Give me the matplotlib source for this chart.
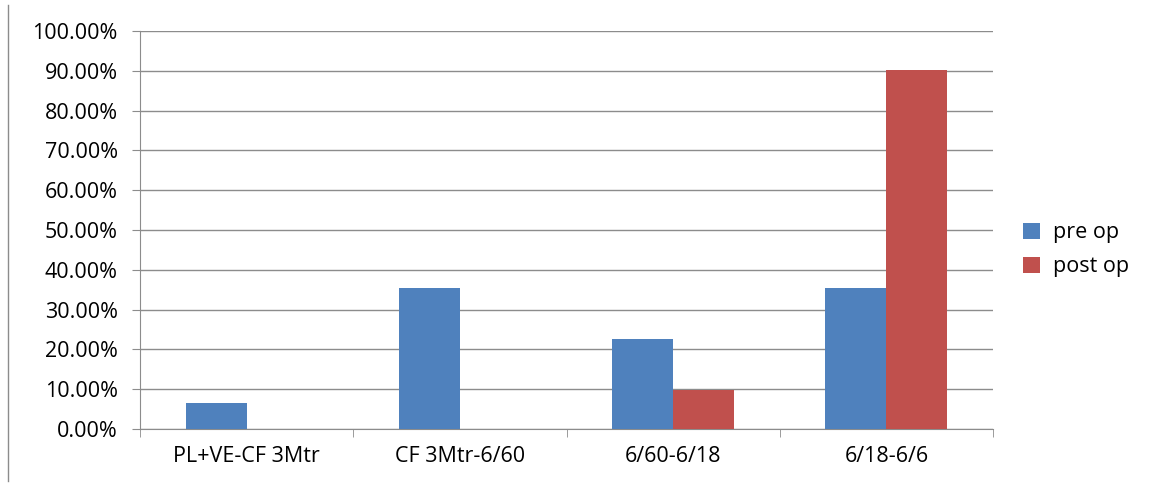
import matplotlib
matplotlib.use("Agg")
import matplotlib.pyplot as plt
from matplotlib.ticker import PercentFormatter
import numpy as np

categories = ["PL+VE-CF 3Mtr", "CF 3Mtr-6/60", "6/60-6/18", "6/18-6/6"]
pre_op = [6.45, 35.48, 22.58, 35.48]
post_op = [0.0, 0.0, 9.68, 90.32]

plt.rcParams["font.family"] = ["Open Sans", "DejaVu Sans"]

fig = plt.figure(figsize=(11.53, 4.86), dpi=100)
ax = fig.add_axes([140 / 1153, 1 - 429 / 486, 853 / 1153, 398 / 486])

x = np.arange(len(categories))
w = 0.286
ax.bar(x - w / 2, pre_op, w, color="#4f81bd", label="pre op", zorder=3)
ax.bar(x + w / 2, post_op, w, color="#c0504d", label="post op", zorder=3)

ax.set_xlim(-0.5, len(categories) - 0.5)
ax.set_ylim(0, 100)
ax.set_yticks(np.arange(0, 101, 10))
ax.yaxis.set_major_formatter(PercentFormatter(decimals=2))
ax.grid(axis="y", color="#8c8c8c", linewidth=1, zorder=0)
ax.set_xticks(x)
ax.set_xticklabels(categories)
ax.set_xticks(np.arange(-0.5, len(categories)), minor=True)
ax.tick_params(axis="x", which="major", length=0, pad=12, labelsize=15.5)
ax.tick_params(axis="x", which="minor", length=6, color="#8c8c8c")
ax.tick_params(axis="y", length=6, color="#8c8c8c", labelsize=15.5, pad=10)
for side in ["top", "right"]:
    ax.spines[side].set_visible(False)
for side in ["left", "bottom"]:
    ax.spines[side].set_color("#8c8c8c")

ax.legend(loc="center left", bbox_to_anchor=(1.02, 0.45), frameon=False,
          fontsize=15.5, handlelength=0.8, handleheight=0.8, labelspacing=0.6,
          handletextpad=0.6, borderaxespad=0.2)

fig.add_artist(plt.Line2D([8 / 1153, 8 / 1153], [0.01, 0.99], transform=fig.transFigure,
                          color="#8c8c8c", linewidth=1))
fig.savefig("out.png", dpi=100)
